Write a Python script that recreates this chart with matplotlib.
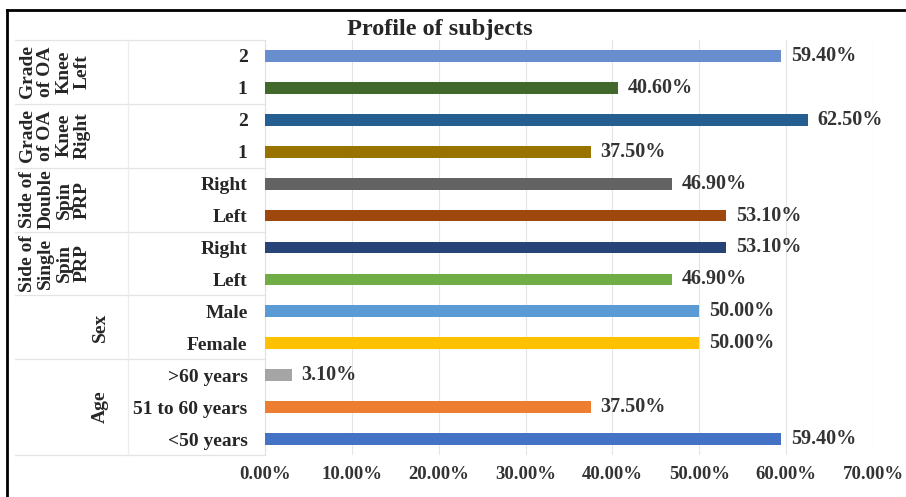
import matplotlib
matplotlib.use("Agg")
import matplotlib.pyplot as plt
from matplotlib.transforms import blended_transform_factory

# ---- data (bottom to top) ----
categories = ["<50 years", "51 to 60 years", ">60 years",
              "Female", "Male",
              "Left", "Right",
              "Left", "Right",
              "1", "2",
              "1", "2"]
values = [59.4, 37.5, 3.1,
          50.0, 50.0,
          46.9, 53.1,
          53.1, 46.9,
          37.5, 62.5,
          40.6, 59.4]
colors = ["#4472c4", "#ed7d31", "#a5a5a5",
          "#ffc000", "#5b9bd5",
          "#70ad47", "#264478",
          "#9e480e", "#636363",
          "#997300", "#255e91",
          "#43682b", "#698ed0"]
groups = ["Age", "Sex", "Side of\nSingle\nSpin\nPRP", "Side of\nDouble\nSpin\nPRP",
          "Grade\nof OA\nKnee\nRight", "Grade\nof OA\nKnee\nLeft"]
group_sizes = [3, 2, 2, 2, 2, 2]
xticks = [0, 10, 20, 30, 40, 50, 60, 70]
title = "Profile of subjects"

W, H = 906, 497
fig = plt.figure(figsize=(W / 100, H / 100), dpi=100)
serif = "Liberation Serif"
ax = fig.add_axes([265 / W, 1 - 455 / H, (873 - 265) / W, (455 - 40) / H])

y = list(range(len(categories)))
ax.barh(y, values, height=0.37, color=colors, zorder=3)
ax.set_xlim(0, 70)
ax.set_ylim(-0.5, len(categories) - 0.5)
ax.set_xticks(xticks)
ax.set_xticklabels([f"{v:.2f}%" for v in xticks], fontfamily=serif,
                   fontweight="bold", fontsize=13.5, color="#333333")
ax.set_yticks(y)
ax.set_yticklabels(categories, fontfamily=serif, fontweight="bold",
                   fontsize=14, color="#262626")
ax.tick_params(axis="y", length=0, pad=12.5)
ax.tick_params(axis="x", length=0, pad=8)
ax.grid(axis="x", color="#e4e4e4", lw=0.8, zorder=0)
for s in ["top", "right", "bottom"]:
    ax.spines[s].set_visible(False)
ax.spines["left"].set_color("#e0e0e0")

for yi, v in zip(y, values):
    ax.annotate(f"{v:.2f}%", (v, yi), xytext=(7, 0), textcoords="offset points",
                va="center", ha="left", fontfamily=serif, fontweight="bold",
                fontsize=14.5, color="#333333")

# multi-level category separators and group labels
tr = blended_transform_factory(fig.transFigure, ax.transData)
start = -0.5
bounds = [start]
for n in group_sizes:
    start += n
    bounds.append(start)
for b in bounds:
    ax.plot([15 / W, 265 / W], [b, b], transform=tr, color="#e4e4e4", lw=0.9, clip_on=False)
ax.plot([128 / W, 128 / W], [-0.5, len(categories) - 0.5], transform=tr,
        color="#ececec", lw=0.9, clip_on=False)

for i, (g, n) in enumerate(zip(groups, group_sizes)):
    yc = (bounds[i] + bounds[i + 1]) / 2
    xc = 100 / W if "\n" not in g else 55 / W
    ax.text(xc, yc, g, transform=tr, rotation=90, ha="center", va="center",
            multialignment="center", fontfamily=serif, fontweight="bold",
            fontsize=14, color="#262626", linespacing=1.1)

fig.text(440 / W, 1 - 30 / H, title, ha="center", va="center", fontfamily=serif,
         fontweight="bold", fontsize=17.5, color="#262626")

# outer frame (top and left edges)
fig.add_artist(plt.Line2D([7 / W, 1], [1 - 10 / H, 1 - 10 / H], color="black", lw=2,
                          transform=fig.transFigure))
fig.add_artist(plt.Line2D([7 / W, 7 / W], [0, 1 - 10 / H], color="black", lw=2,
                          transform=fig.transFigure))

fig.savefig("out.png", dpi=100)
